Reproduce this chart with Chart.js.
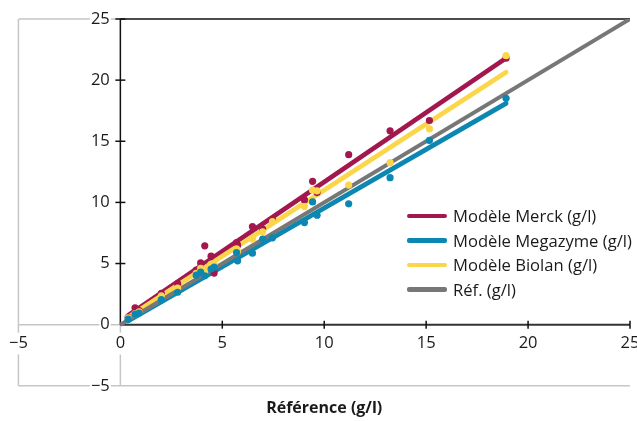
<!DOCTYPE html>
<html><head><meta charset="utf-8">
<script src="https://cdn.jsdelivr.net/npm/chart.js@4"></script>
<style>
html,body{margin:0;padding:0;background:#fff;overflow:hidden;}
#wrap{position:relative;width:650px;height:421px;}
#legend{position:absolute;left:407px;top:203.5px;font-family:"Open Sans",sans-serif;font-size:16.6px;color:#1a1a1a;}
.row{display:flex;align-items:center;height:24.6px;white-space:nowrap;}
.sw{width:40px;height:4.5px;margin-right:6px;border-radius:2px;}
</style></head>
<body><div id="wrap"><canvas id="c" width="650" height="421"></canvas><div id="legend"></div></div>
<script>
// Reference method values (x) shared by the three kits
const refX      = [0.38, 0.72, 0.92, 2.01, 2.81, 3.72, 3.94, 4.14, 4.45, 4.60, 5.70, 5.75, 6.48, 6.98, 7.46, 9.03, 9.43, 9.65, 11.20, 13.23, 15.16, 18.92];
const merckY    = [0.60, 1.38, 1.15, 2.56, 3.35, 4.46, 5.05, 6.45, 5.60, 4.22, 6.72, 6.50, 8.02, 7.82, 8.60, 10.20, 11.72, 10.80, 13.90, 15.85, 16.70, 21.80];
const megazymeY = [0.45, 0.87, 0.95, 2.04, 2.65, 4.05, 4.30, 4.00, 4.55, 4.70, 5.90, 5.22, 5.85, 7.00, 7.10, 8.35, 10.04, 8.95, 9.88, 12.02, 15.07, 18.52];
const biolanY   = [0.55, 0.90, 1.05, 2.35, 3.00, 4.20, 4.60, 4.40, 4.95, 5.00, 6.20, 6.00, 7.00, 7.60, 8.42, 9.66, 11.00, 10.95, 11.42, 13.25, 16.02, 22.00];
// Fitted model lines (start / end)
const fitX        = [0.38, 18.92];
const merckFit    = [0.75, 21.80];
const megazymeFit = [0.30, 18.10];
const biolanFit   = [0.60, 20.65];
const refLineX    = [0, 25];
const refLineY    = [0, 25];
const tickValues  = [-5, 0, 5, 10, 15, 20, 25];
const seriesNames = ['Modèle Merck (g/l)', 'Modèle Megazyme (g/l)', 'Modèle Biolan (g/l)', 'Réf. (g/l)'];
const axisTitle   = 'Référence (g/l)';

const COL = {merck:'#A3174F', mega:'#0B87B2', biolan:'#FCD64A', ref:'#777777'};
const pts = (xs, ys) => xs.map((x, i) => ({x, y: ys[i]}));
const fmt = v => v < 0 ? '\u2212' + Math.abs(v) : String(v);
const FONT = '"Open Sans", sans-serif';

function seg(ctx, x1, y1, x2, y2){ ctx.beginPath(); ctx.moveTo(x1, y1); ctx.lineTo(x2, y2); ctx.stroke(); }

const framePlugin = {
  id: 'frame',
  beforeDraw(chart){
    const {ctx, scales:{x, y}} = chart;
    const X = v => x.getPixelForValue(v), Y = v => y.getPixelForValue(v);
    ctx.save();
    ctx.lineWidth = 1.5; ctx.strokeStyle = '#c6c6c6';
    seg(ctx, X(x.min), Y(y.max), X(x.min), Y(y.min));
    seg(ctx, X(x.min), Y(y.min), X(x.max), Y(y.min));
    seg(ctx, X(x.min), Y(y.max), X(0), Y(y.max));
    seg(ctx, X(x.min), Y(0), X(0), Y(0));
    seg(ctx, X(0), Y(0), X(0), Y(y.min));
    ctx.restore();
  },
  beforeDatasetsDraw(chart){
    const {ctx, scales:{x, y}} = chart;
    const X = v => x.getPixelForValue(v), Y = v => y.getPixelForValue(v);
    ctx.save();
    ctx.strokeStyle = '#111'; ctx.lineWidth = 1.5;
    seg(ctx, X(0), Y(y.max), X(x.max), Y(y.max));
    seg(ctx, X(0), Y(0), X(0), Y(y.max));
    ctx.strokeStyle = '#333'; ctx.lineWidth = 2;
    seg(ctx, X(0), Y(0), X(x.max), Y(0));
    ctx.lineWidth = 1.5; ctx.strokeStyle = '#111';
    tickValues.filter(v => v > 0).forEach(v => {
      seg(ctx, X(0) - 5, Y(v), X(0) + 5, Y(v));
      seg(ctx, X(v), Y(0) - 4, X(v), Y(0) + 4);
    });
    ctx.restore();
  }
};

const setTicks = s => { s.ticks = tickValues.map(v => ({value: v})); };
const tickOpts = {
  font: {family: FONT, size: 16.5}, color: '#1a1a1a', callback: fmt,
  showLabelBackdrop: true, backdropColor: '#ffffff', backdropPadding: 1
};

const chart = new Chart(document.getElementById('c'), {
  type: 'scatter',
  data: {
    datasets: [
      {label: seriesNames[0], legend: true, data: pts(fitX, merckFit), showLine: true, borderColor: COL.merck, backgroundColor: COL.merck, borderWidth: 4.8, borderCapStyle: 'round', pointRadius: 0, order: 14},
      {label: seriesNames[1], legend: true, data: pts(fitX, megazymeFit), showLine: true, borderColor: COL.mega, backgroundColor: COL.mega, borderWidth: 4.8, borderCapStyle: 'round', pointRadius: 0, order: 13},
      {label: seriesNames[2], legend: true, data: pts(fitX, biolanFit), showLine: true, borderColor: COL.biolan, backgroundColor: COL.biolan, borderWidth: 4.8, borderCapStyle: 'round', pointRadius: 0, order: 12},
      {label: seriesNames[3], legend: true, data: pts(refLineX, refLineY), showLine: true, borderColor: COL.ref, backgroundColor: COL.ref, borderWidth: 4, pointRadius: 0, order: 11},
      {label: 'Merck', data: pts(refX, merckY), backgroundColor: COL.merck, borderWidth: 0, pointRadius: 3.6, order: 3},
      {label: 'Biolan', data: pts(refX, biolanY), backgroundColor: COL.biolan, borderWidth: 0, pointRadius: 3.6, order: 2},
      {label: 'Megazyme', data: pts(refX, megazymeY), backgroundColor: COL.mega, borderWidth: 0, pointRadius: 3.6, order: 1}
    ]
  },
  options: {
    responsive: false, animation: false, devicePixelRatio: 1,
    layout: {padding: {left: 18, top: 19, right: 20, bottom: 0}},
    plugins: {legend: {display: false}, tooltip: {enabled: false}},
    scales: {
      x: {type: 'linear', min: -5, max: 25, position: {y: 0}, afterBuildTicks: setTicks,
          grid: {display: false, drawTicks: false}, border: {display: false},
          ticks: Object.assign({padding: 9, maxRotation: 0}, tickOpts)},
      // y labels sit just left of the x = 0 axis (small gap expressed in data units)
      y: {type: 'linear', min: -5, max: 25, position: {x: -0.52}, afterBuildTicks: setTicks,
          grid: {display: false, drawTicks: false}, border: {display: false},
          ticks: Object.assign({padding: 0}, tickOpts)},
      x2: {type: 'linear', min: -5, max: 25, position: 'bottom', display: true,
           grid: {display: false, drawTicks: false}, border: {display: false}, ticks: {display: false},
           title: {display: true, text: axisTitle, color: '#1a1a1a', font: {family: FONT, size: 16, weight: 'bold'}, padding: {top: 13, bottom: 3}}}
    }
  },
  plugins: [framePlugin]
});

// HTML legend built from the line datasets
const lg = document.getElementById('legend');
chart.data.datasets.filter(d => d.legend).forEach(d => {
  const row = document.createElement('div'); row.className = 'row';
  const sw = document.createElement('span'); sw.className = 'sw'; sw.style.background = d.borderColor;
  const tx = document.createElement('span'); tx.textContent = d.label;
  row.appendChild(sw); row.appendChild(tx); lg.appendChild(row);
});
</script>
</body></html>
